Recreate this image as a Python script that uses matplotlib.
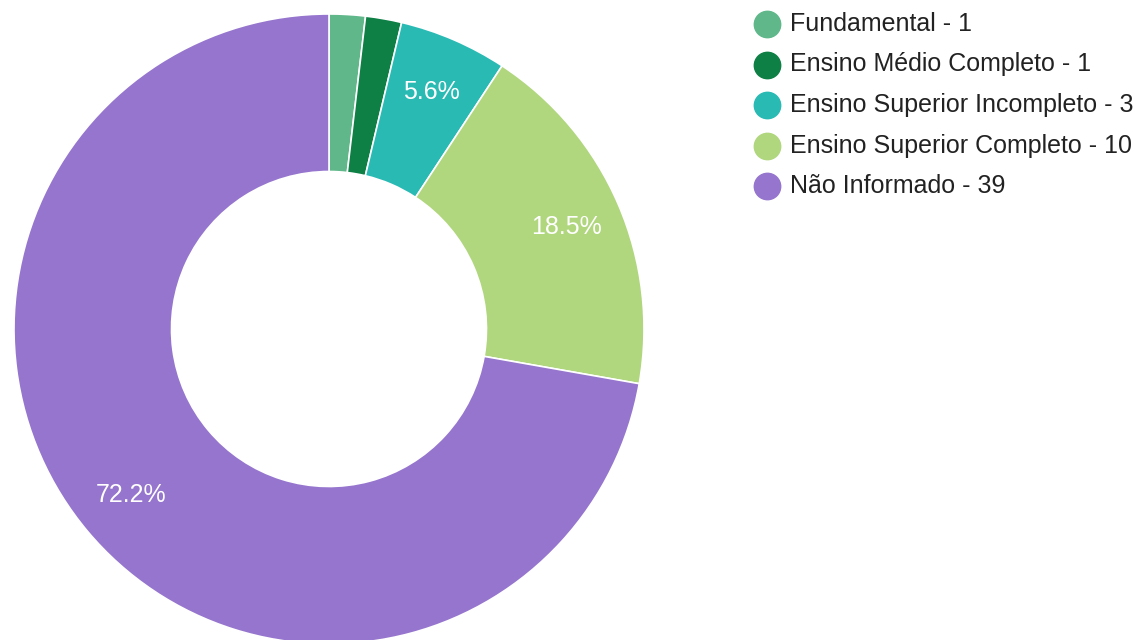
import matplotlib.pyplot as plt
import numpy as np

plt.rcParams['font.family'] = ['Liberation Sans', 'DejaVu Sans']

categorias = ['Fundamental', 'Ensino Médio Completo', 'Ensino Superior Incompleto',
              'Ensino Superior Completo', 'Não Informado']
valores = [1, 1, 3, 10, 39]
cores = ['#5fb78a', '#0e7f45', '#29bab4', '#b0d67e', '#9575cd']

fig = plt.figure(figsize=(11.46, 6.4), dpi=100)

# donut
ax = fig.add_axes([14 / 1146, -4 / 640, 630 / 1146, 630 / 640])
total = sum(valores)


def fmt(p):
    return '%.1f%%' % p if p >= 5 else ''


wedges, texts, autotexts = ax.pie(
    valores, colors=cores, startangle=90, counterclock=False, radius=1,
    autopct=fmt, pctdistance=0.82,
    wedgeprops=dict(width=0.5, edgecolor='white', linewidth=1.2),
    textprops=dict(color='white', fontsize=18))
ax.set_xlim(-1, 1)
ax.set_ylim(-1, 1)
ax.set_aspect('equal')
ax.axis('off')

# legend
lg = fig.add_axes([0, 0, 1, 1])
lg.set_xlim(0, 1146)
lg.set_ylim(640, 0)
lg.axis('off')
for i, (c, v) in enumerate(zip(categorias, valores)):
    y = 24 + i * 40.5
    lg.plot(767, y, 'o', ms=19, color=cores[i], mec=cores[i])
    lg.text(790, y, '%s - %d' % (c, v), fontsize=18, color='#222222', va='center', ha='left')

plt.savefig('out.png', dpi=100)
